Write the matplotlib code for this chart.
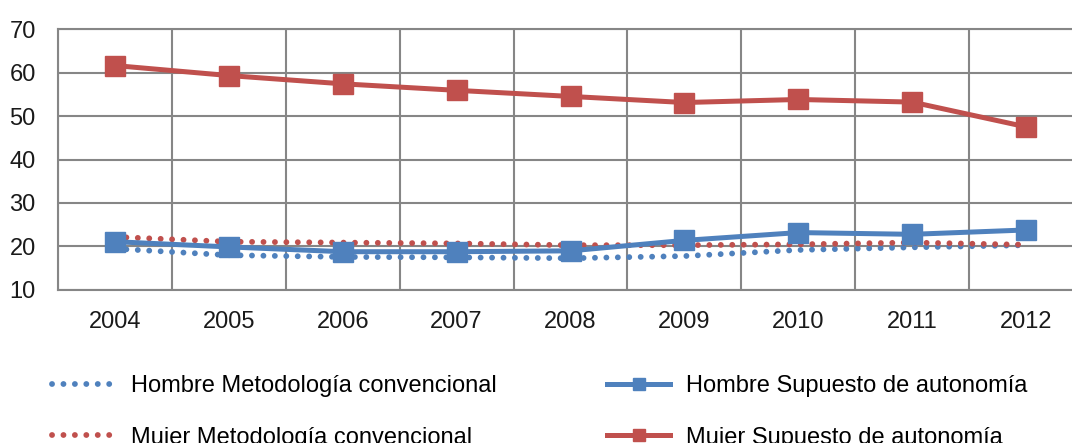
import matplotlib.pyplot as plt

plt.rcParams["font.family"] = ["Liberation Sans", "DejaVu Sans"]

#DATA
years = ["2004", "2005", "2006", "2007", "2008", "2009", "2010", "2011", "2012"]
hombre_conv = [19.5, 18.0, 17.6, 17.5, 17.3, 17.8, 19.2, 19.8, 20.3]
mujer_conv = [22.2, 21.1, 20.9, 20.7, 20.3, 20.3, 20.5, 20.9, 20.4]
hombre_sup = [21.1, 19.9, 18.8, 18.8, 19.0, 21.4, 23.2, 22.8, 23.8]
mujer_sup = [61.6, 59.3, 57.4, 55.9, 54.5, 53.1, 53.8, 53.2, 47.5]

labels = [
    "Hombre Metodología convencional",
    "Mujer Metodología convencional",
    "Hombre Supuesto de autonomía",
    "Mujer Supuesto de autonomía",
]

BLUE = "#4F81BD"
RED = "#C0504D"
GRID = "#868686"

#FIGURE
fig = plt.figure(figsize=(10.72, 4.43), dpi=100)
ax = fig.add_axes([0.0541, 0.3454, 0.9562, 0.5891])

x = range(len(years))
dot_style = dict(linewidth=4.2, linestyle=(0, (0.01, 1.95)), dash_capstyle="round")
sup_style = dict(linewidth=3.6, marker="s", markersize=14)

h1, = ax.plot(x, hombre_conv, color=BLUE, **dot_style, zorder=3)
h2, = ax.plot(x, mujer_conv, color=RED, **dot_style, zorder=3)
h3, = ax.plot(x, hombre_sup, color=BLUE, **sup_style, zorder=4)
h4, = ax.plot(x, mujer_sup, color=RED, **sup_style, zorder=4)

#AXES
ax.set_xlim(-0.5, len(years) - 0.5)
ax.set_ylim(10, 70)
ax.set_yticks(range(10, 71, 10))
ax.set_xticks(list(x))
ax.set_xticklabels(years)
ax.set_xticks([i + 0.5 for i in range(-1, len(years))], minor=True)

ax.grid(True, axis="y", which="major", color=GRID, linewidth=1.5)
ax.grid(True, axis="x", which="minor", color=GRID, linewidth=1.5)
ax.set_axisbelow(True)
for spine in ax.spines.values():
    spine.set_color(GRID)
    spine.set_linewidth(1.5)

ax.tick_params(axis="both", which="both", length=0, labelsize=17, colors="#1a1a1a")
ax.tick_params(axis="x", pad=15)
ax.tick_params(axis="y", pad=16)

#LEGEND
fig.legend(
    [h1, h2, h3, h4], labels,
    ncol=2, loc="upper left", bbox_to_anchor=(0.0485, 0.153),
    frameon=False, fontsize=17, handlelength=2.7, handletextpad=0.65,
    columnspacing=4.65, labelspacing=1.25, markerscale=0.65,
    borderpad=0, borderaxespad=0,
)

plt.savefig("out.png", dpi=100)
